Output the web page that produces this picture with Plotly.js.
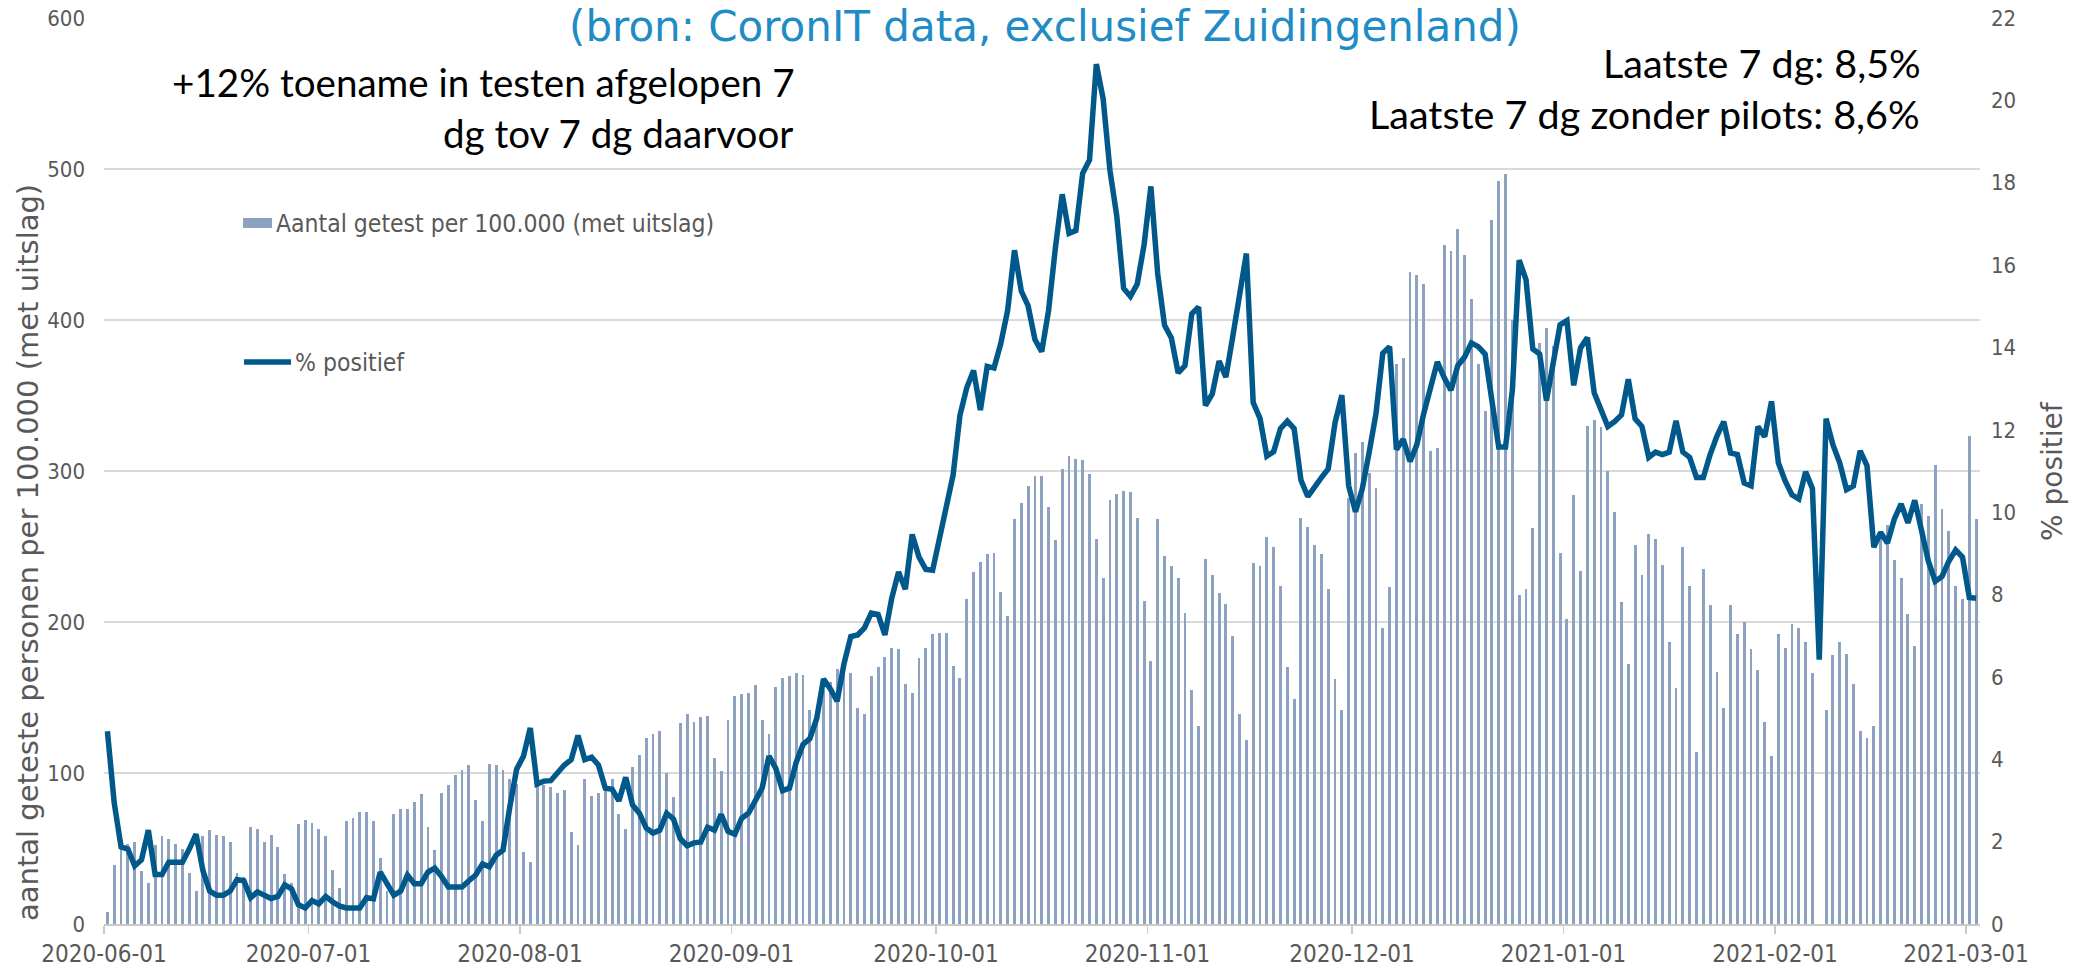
<!DOCTYPE html>
<html>
<head>
<meta charset="utf-8">
<script src="https://cdn.plot.ly/plotly-3.0.1.min.js"></script>
<style>
  html, body { margin: 0; padding: 0; background: #ffffff; }
  #chart { width: 2084px; height: 967px; }
</style>
</head>
<body>
<div id="chart"></div>
<script>
// ---- DATA ----
const startDate = '2020-06-01';   // first day; one value per day follows
const dayCount = 275;             // 2020-06-01 .. 2021-03-02

// Aantal getest per 100.000 (met uitslag) – left axis
const getestPer100k = [
  8,39,52,53,54,35,27,52,58,56,53,50,34,22,58,62,59,58,54,34,31,64,63,54,59,51,33,27,66,69,
  67,63,58,36,24,68,70,74,74,68,44,22,73,76,76,81,86,64,49,87,92,99,102,105,82,68,106,105,102,96,
  93,48,41,92,92,91,87,89,61,52,96,85,87,91,96,73,63,104,112,123,126,128,100,84,133,139,134,137,138,110,
  101,135,151,152,153,158,135,126,157,163,164,166,165,142,133,155,160,169,168,166,143,139,164,170,177,183,182,159,153,176,
  183,192,193,193,171,163,215,233,240,245,246,220,204,268,279,290,297,297,276,254,301,310,308,307,298,255,229,281,
  285,287,286,269,214,174,268,244,237,229,206,155,131,242,231,219,212,191,139,122,239,237,256,250,224,170,149,269,
  263,251,245,222,162,142,282,312,319,299,289,196,223,371,375,432,430,424,313,315,450,446,460,443,414,371,340,466,
  492,497,400,218,222,262,385,395,383,246,202,284,234,330,334,329,300,273,213,172,251,231,258,255,238,187,156,250,
  224,114,235,211,167,143,211,192,200,182,168,134,111,192,183,199,196,187,166,null,142,178,187,179,159,128,123,131,
  260,264,241,229,205,184,278,270,304,275,260,224,215,323,268
];

// % positief – right axis
const pctPositief = [
  4.68,2.94,1.87,1.82,1.41,1.56,2.28,1.2,1.2,1.5,1.5,1.5,1.82,2.18,1.3,0.8,0.7,0.7,0.8,1.08,
  1.05,0.64,0.78,0.7,0.62,0.67,0.95,0.85,0.47,0.39,0.57,0.49,0.67,0.54,0.44,0.39,0.39,0.39,0.64,0.61,
  1.26,0.95,0.7,0.8,1.19,0.98,0.98,1.26,1.36,1.15,0.9,0.9,0.9,1.05,1.19,1.46,1.39,1.67,1.79,2.84,
  3.76,4.07,4.76,3.4,3.47,3.48,3.66,3.86,3.99,4.58,3.99,4.05,3.86,3.3,3.27,2.99,3.56,2.89,2.69,2.33,
  2.21,2.28,2.69,2.55,2.07,1.9,1.97,1.99,2.35,2.28,2.66,2.25,2.18,2.57,2.69,3.0,3.3,4.08,3.78,3.24,
  3.3,3.93,4.36,4.5,4.99,5.95,5.71,5.41,6.32,6.98,7.02,7.19,7.55,7.52,7.02,7.91,8.55,8.13,9.46,8.91,
  8.61,8.59,9.4,10.12,10.9,12.35,13.02,13.44,12.48,13.54,13.5,14.1,14.9,16.36,15.37,15.01,14.19,13.9,14.9,16.42,
  17.72,16.77,16.84,18.23,18.55,20.88,20.04,18.3,17.19,15.44,15.24,15.54,16.49,17.91,15.79,14.54,14.23,13.38,13.56,14.82,
  14.98,12.59,12.87,13.67,13.28,14.26,15.3,16.28,12.66,12.28,11.36,11.47,12.03,12.21,12.03,10.78,10.38,10.64,10.84,11.05,
  12.17,12.84,10.64,10.01,10.57,11.45,12.39,13.86,14.02,11.52,11.77,11.23,11.64,12.39,13.08,13.65,13.27,12.96,13.56,13.77,
  14.11,14.02,13.84,12.71,11.58,11.58,12.96,16.12,15.65,13.96,13.84,12.71,13.65,14.55,14.65,13.08,13.99,14.24,12.9,12.52,
  12.08,12.2,12.36,13.23,12.27,12.08,11.33,11.46,11.4,11.46,12.22,11.46,11.33,10.84,10.84,11.4,11.85,12.2,11.44,11.4,
  10.71,10.64,12.08,11.83,12.69,11.2,10.76,10.42,10.32,10.98,10.57,6.42,12.27,11.64,11.2,10.55,10.64,11.49,11.13,9.15,
  9.51,9.25,9.83,10.2,9.74,10.29,9.54,8.81,8.32,8.44,8.81,9.08,8.91,7.93,7.91
];

const tickDates = ['2020-06-01','2020-07-01','2020-08-01','2020-09-01','2020-10-01','2020-11-01',
                   '2020-12-01','2021-01-01','2021-02-01','2021-03-01'];

const seriesNames = ['Aantal getest per 100.000 (met uitslag)', '% positief'];
const axisTitles = ['aantal geteste personen per 100.000 (met uitslag)', '% positief'];
const noteLeft = ['+12% toename in testen afgelopen 7', 'dg tov 7 dg daarvoor'];
const noteRight = ['Laatste 7 dg: 8,5%', 'Laatste 7 dg zonder pilots: 8,6%'];
const topTitle = '(bron: CoronIT data, exclusief Zuidingenland)';

// ---- build day categories (each day drawn at its middle) ----
const dates = [];
(function () {
  const t0 = Date.parse(startDate + 'T00:00:00Z');
  for (let i = 0; i < dayCount; i++) {
    const d = new Date(t0 + i * 86400000);
    dates.push(d.toISOString().slice(0, 10) + ' 12:00');
  }
})();

// ---- styling ----
const GRAY = '#595959';
const BAR = '#8CA2C0';
const LINE = '#00598A';
const NARROW = "'Liberation Sans Narrow', 'DejaVu Sans Condensed', 'Arial Narrow', sans-serif";
const COND = "'DejaVu Sans Condensed', 'Liberation Sans Narrow', sans-serif";
const VERD = "'DejaVu Sans', Verdana, sans-serif";
const CAL = "Lato, 'Open Sans', sans-serif";

// plot area in pixels
const L = 104, R = 1980, T = 18, B = 924;
const px = x => (x - L) / (R - L);
const py = y => (B - y) / (B - T);

const traces = [
  {
    type: 'bar', x: dates, y: getestPer100k, name: seriesNames[0],
    marker: { color: BAR, line: { width: 0 } },
    width: 0.42 * 86400000,
    yaxis: 'y', showlegend: false, hoverinfo: 'x+y'
  },
  {
    type: 'scatter', mode: 'lines', x: dates, y: pctPositief, name: seriesNames[1],
    line: { color: LINE, width: 5.5, shape: 'linear' },
    yaxis: 'y2', showlegend: false, hoverinfo: 'x+y'
  }
];

const legendFont = { family: COND, size: 24.5, color: GRAY };

const layout = {
  width: 2084, height: 967,
  margin: { l: L, r: 2084 - R, t: T, b: 967 - B, pad: 0 },
  paper_bgcolor: '#ffffff', plot_bgcolor: '#ffffff',
  bargap: 0,
  showlegend: false,
  xaxis: {
    type: 'date',
    range: ['2020-06-01', '2021-03-03 01:40'],
    tickvals: tickDates,
    ticktext: tickDates,
    ticks: 'outside', ticklen: 8, tickwidth: 1.5, tickcolor: '#c8c8c8',
    showline: true, linecolor: '#c8c8c8', linewidth: 1.5,
    showgrid: false, zeroline: false,
    tickfont: { family: NARROW, size: 24, color: GRAY },
    fixedrange: true
  },
  yaxis: {
    range: [0, 600], dtick: 100, tick0: 0,
    showgrid: true, gridcolor: '#d9d9d9', gridwidth: 1.5,
    zeroline: false, showline: false, ticks: '',
    ticklabelstandoff: 18,
    tickfont: { family: NARROW, size: 22, color: GRAY },
    fixedrange: true
  },
  yaxis2: {
    overlaying: 'y', side: 'right',
    range: [0, 22], dtick: 2, tick0: 0,
    showgrid: false, zeroline: false, showline: false, ticks: '',
    ticklabelstandoff: 10,
    tickfont: { family: NARROW, size: 22, color: GRAY },
    fixedrange: true
  },
  shapes: [
    // legend swatches
    { type: 'rect', xref: 'paper', yref: 'paper', x0: px(243), x1: px(272), y0: py(228), y1: py(218),
      fillcolor: BAR, line: { width: 0 } },
    { type: 'line', xref: 'paper', yref: 'paper', x0: px(244), x1: px(291), y0: py(362), y1: py(362),
      line: { color: LINE, width: 5.5 } }
  ],
  annotations: [
    { text: topTitle, xref: 'paper', yref: 'paper', x: px(1045), y: py(0),
      xanchor: 'center', yanchor: 'top', showarrow: false,
      font: { family: VERD, size: 42, color: '#1F8CC6' } },
    { text: axisTitles[0], xref: 'paper', yref: 'paper', x: px(28), y: py(553),
      xanchor: 'center', yanchor: 'middle', textangle: -90, showarrow: false,
      font: { family: VERD, size: 29, color: GRAY } },
    { text: axisTitles[1], xref: 'paper', yref: 'paper', x: px(2052), y: py(471),
      xanchor: 'center', yanchor: 'middle', textangle: -90, showarrow: false,
      font: { family: VERD, size: 28, color: GRAY } },
    { text: seriesNames[0], xref: 'paper', yref: 'paper', x: px(274), y: py(223),
      xanchor: 'left', yanchor: 'middle', showarrow: false, font: legendFont },
    { text: seriesNames[1], xref: 'paper', yref: 'paper', x: px(293), y: py(362),
      xanchor: 'left', yanchor: 'middle', showarrow: false, font: legendFont },
    { text: noteLeft[0], xref: 'paper', yref: 'paper', x: px(797), y: py(82),
      xanchor: 'right', yanchor: 'middle', showarrow: false,
      font: { family: CAL, size: 38.6, color: '#000000' } },
    { text: noteLeft[1], xref: 'paper', yref: 'paper', x: px(795), y: py(133),
      xanchor: 'right', yanchor: 'middle', showarrow: false,
      font: { family: CAL, size: 38.6, color: '#000000' } },
    { text: noteRight[0], xref: 'paper', yref: 'paper', x: px(1923), y: py(62),
      xanchor: 'right', yanchor: 'middle', showarrow: false,
      font: { family: CAL, size: 39.5, color: '#000000' } },
    { text: noteRight[1], xref: 'paper', yref: 'paper', x: px(1922), y: py(114),
      xanchor: 'right', yanchor: 'middle', showarrow: false,
      font: { family: CAL, size: 39.5, color: '#000000' } }
  ]
};

Plotly.newPlot('chart', traces, layout, { displayModeBar: false, responsive: false, staticPlot: true });
</script>
</body>
</html>
